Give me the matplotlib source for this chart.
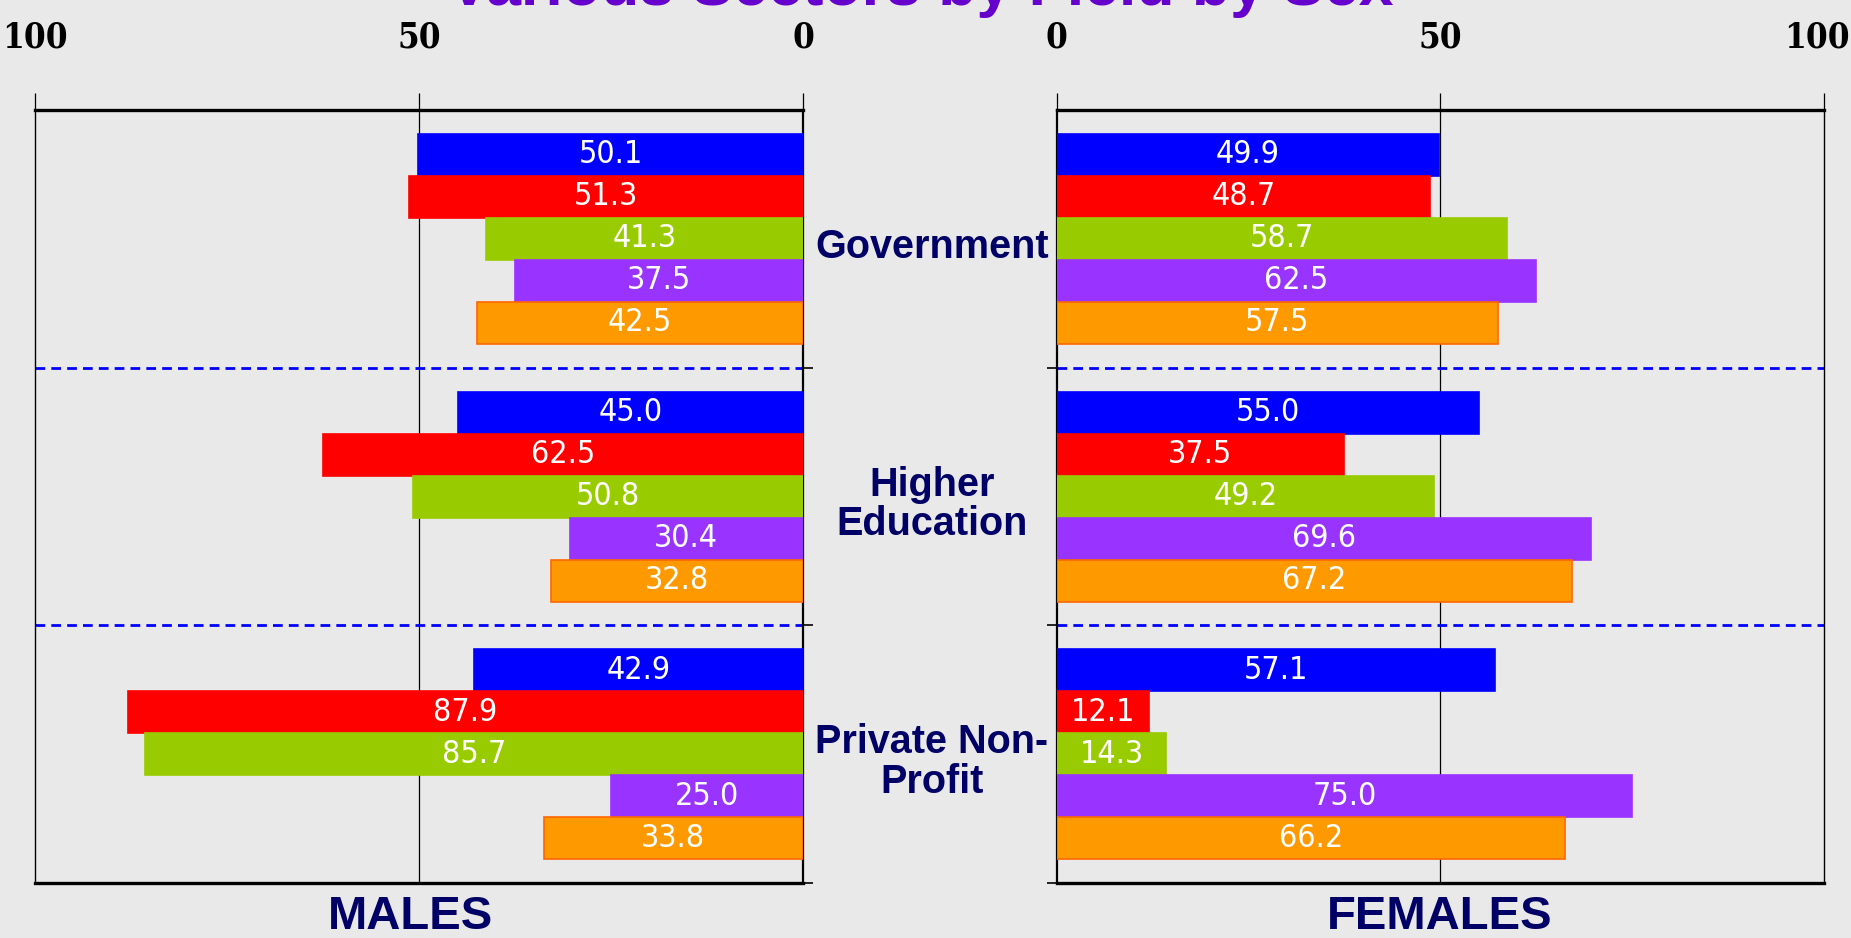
import matplotlib
matplotlib.use("Agg")
import matplotlib.pyplot as plt
from matplotlib import font_manager
from matplotlib.transforms import blended_transform_factory, ScaledTranslation

# Données
secteurs = ["Government", "Higher\nEducation", "Private Non-\nProfit"]
couleurs = ["#0000ff", "#ff0000", "#99cc00", "#9933ff", "#ff9900"]
bords = ["#0000ff", "#ff0000", "#99cc00", "#9933ff", "#ff6600"]

hommes_gov = [50.1, 51.3, 41.3, 37.5, 42.5]
hommes_sup = [45.0, 62.5, 50.8, 30.4, 32.8]
hommes_pnp = [42.9, 87.9, 85.7, 25.0, 33.8]

femmes_gov = [49.9, 48.7, 58.7, 62.5, 57.5]
femmes_sup = [55.0, 37.5, 49.2, 69.6, 67.2]
femmes_pnp = [57.1, 12.1, 14.3, 75.0, 66.2]

graduations = [0, 50, 100]
titre = "Various Sectors by Field by Sex"


def policeEtroite(familles, gras):
    """Cherche une variante condensée droite installée, sinon None."""
    for f in font_manager.fontManager.ttflist:
        nom = f.name
        etroit = ("Narrow" in nom or "Condensed" in nom
                  or str(f.stretch) in ("condensed", "semi-condensed",
                                        "extra-condensed", "75", "87"))
        if not etroit or f.style != "normal":
            continue
        if "Oblique" in f.fname or "Italic" in f.fname:
            continue
        if not any(fam in nom for fam in familles):
            continue
        est_gras = f.weight in ("bold", 700, "700")
        if est_gras == gras:
            return f.fname
    return None


fic_barres = policeEtroite(["Liberation Sans", "DejaVu Sans", "Roboto",
                            "Open Sans", "Noto Sans"], False)
fic_graduations = policeEtroite(["DejaVu Serif", "Liberation Serif"], True)

if fic_barres:
    prop_barres = font_manager.FontProperties(fname=fic_barres, size=23)
else:
    prop_barres = font_manager.FontProperties(family="Liberation Sans", size=21)

if fic_graduations:
    prop_grad = font_manager.FontProperties(fname=fic_graduations, size=25)
else:
    prop_grad = font_manager.FontProperties(family="Liberation Serif",
                                            weight="bold", size=25)

FOND = "#e9e9e9"
MARINE = "#000066"

fig = plt.figure(figsize=(18.51, 9.38), dpi=100, facecolor=FOND)
ax_h = fig.add_axes([0.0191, 0.0586, 0.4147, 0.8241], facecolor=FOND)
ax_f = fig.add_axes([0.5708, 0.0586, 0.4146, 0.8241], facecolor=FOND)

hauteur = 0.163


def dessinerPanneau(ax, groupes, inverse):
    for g, valeurs in enumerate(groupes):
        for i, v in enumerate(valeurs):
            y = g + (i - 2) * hauteur
            ax.barh(y, v, height=hauteur, color=couleurs[i],
                    edgecolor=bords[i], linewidth=1.2, zorder=3)
            ax.text(v / 2, y, f"{v:.1f}", color="white", ha="center",
                    va="center", fontproperties=prop_barres, zorder=4)

    if inverse:
        ax.set_xlim(100, 0)
    else:
        ax.set_xlim(0, 100)
    ax.set_ylim(2.5, -0.5)

    # lignes de séparation
    for b in [0.5, 1.5, 2.5]:
        ax.axhline(b, color="#0000ff", linestyle="--", linewidth=2,
                   dashes=(3.5, 2.2), zorder=2, clip_on=False)
    ax.axvline(50, color="black", linewidth=0.9, zorder=1)

    ax.xaxis.tick_top()
    ax.set_xticks(graduations)
    ax.tick_params(axis="x", direction="out", length=12, width=0.9, pad=28)
    for lab in ax.get_xticklabels():
        lab.set_fontproperties(prop_grad)

    ax.set_yticks([0.5, 1.5, 2.5])
    ax.set_yticklabels([])
    ax.tick_params(axis="y", direction="out", length=7, width=1.2)
    if inverse:
        ax.yaxis.tick_right()
    else:
        ax.yaxis.tick_left()

    ax.spines["top"].set_linewidth(2.4)
    ax.spines["bottom"].set_linewidth(2.4)
    ax.spines["left"].set_linewidth(1.0)
    ax.spines["right"].set_linewidth(1.0)
    if inverse:
        ax.spines["right"].set_linewidth(1.6)
    else:
        ax.spines["left"].set_linewidth(1.6)


dessinerPanneau(ax_h, [hommes_gov, hommes_sup, hommes_pnp], True)
dessinerPanneau(ax_f, [femmes_gov, femmes_sup, femmes_pnp], False)

# le "100" de droite rentre un peu pour rester dans l'image
lab100 = ax_f.xaxis.get_major_ticks()[-1].label2
lab100.set_transform(lab100.get_transform()
                     + ScaledTranslation(-0.07, 0, fig.dpi_scale_trans))

# noms des secteurs au centre
trans = blended_transform_factory(fig.transFigure, ax_h.transData)
for g, nom in enumerate(secteurs):
    ax_h.text(0.5035, g + 0.03, nom, transform=trans, ha="center",
              va="center", fontsize=28.5, fontweight="bold", color=MARINE,
              family="Liberation Sans", linespacing=1.05, clip_on=False)

fig.text(0.2216, 0.022, "MALES", ha="center", va="center", fontsize=34,
         fontweight="bold", color=MARINE, family="Liberation Sans")
fig.text(0.7780, 0.022, "FEMALES", ha="center", va="center", fontsize=34,
         fontweight="bold", color=MARINE, family="Liberation Sans")

fig.text(0.4976, 0.9947, titre, ha="center", va="baseline", fontsize=45,
         fontweight="bold", color="#6600cc", family="Liberation Sans")

fig.savefig("out.png", dpi=100, facecolor=FOND)
